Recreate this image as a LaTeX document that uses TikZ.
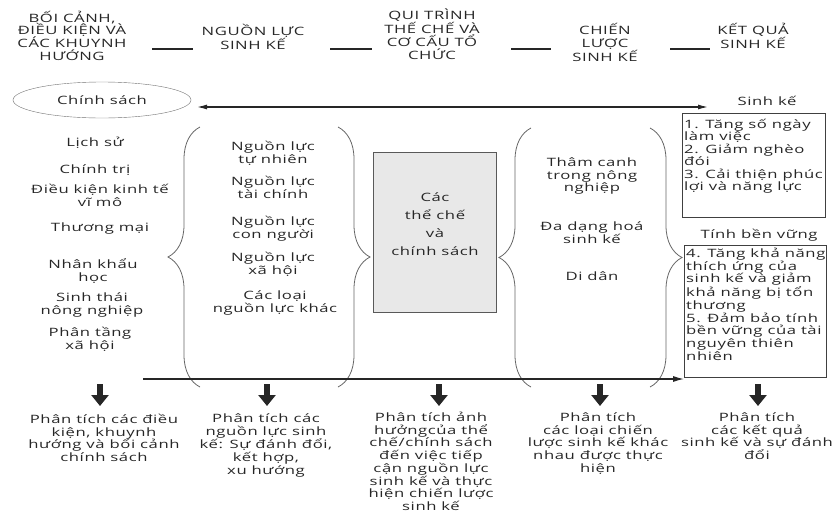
\documentclass[tikz,border=0pt]{standalone}
\usepackage{fontspec}
\setmainfont{Open Sans}[FakeStretch=1.45,LetterSpace=5]
\usetikzlibrary{arrows.meta,decorations.pathreplacing,shapes.geometric}

\begin{document}
\begin{tikzpicture}[x=1pt,y=-1pt,
    lbl/.style={align=center,inner sep=0pt,anchor=base,text=black!85,
      font=\fontsize{11.5}{12.7}\selectfont},
    hdr/.style={lbl,font=\fontsize{11.5}{12.8}\selectfont},
    outtxt/.style={align=left,inner sep=0pt,anchor=base west,text=black!85,
      font=\fontsize{11.5}{12.7}\selectfont},
    frame/.style={draw=black!75,line width=0.7pt,inner sep=0pt,anchor=north west},
    brc/.style={draw=black!60,line width=0.8pt,decorate,
      decoration={brace,amplitude=32pt}},
    dnarr/.style={line width=6pt,draw=black!85,
      -{Triangle[width=17pt,length=11pt]}},
    seg/.style={line width=2.5pt,draw=black!85}]
  \useasboundingbox (0,0) rectangle (838,512);

  % column headings (base = last line)
  \node[hdr] (ctx) at (72,60.4) {BỐI CẢNH,\\ĐIỀU KIỆN VÀ\\CÁC KHUYNH\\HƯỚNG};
  \node[hdr] (assets) at (253,49.8) {NGUỒN LỰC\\SINH KẾ};
  \node[hdr] (inst) at (432,59.4) {QUI TRÌNH\\THẾ CHẾ VÀ\\CƠ CẤU TỔ\\CHỨC};
  \node[hdr] (strat) at (605,61.6) {CHIẾN\\LƯỢC\\SINH KẾ};
  \node[hdr] (outc) at (753,48.8) {KẾT QUẢ\\SINH KẾ};
  \draw[seg] (152,49) -- (193,49);
  \draw[seg] (330,49) -- (372,49);
  \draw[seg] (511,49) -- (551,49);
  \draw[seg] (670,49) -- (710,49);

  % policy <-> livelihood
  \node[draw=black!55,ellipse,minimum width=178pt,minimum height=36pt,
    inner sep=0pt,text=black!85,font=\fontsize{11.5}{12.7}\selectfont]
    (policy) at (102,100) {Chính sách};
  \node[lbl] (livelihood) at (767,105.5) {Sinh kế};
  \coordinate (pl) at (197,107);
  \coordinate (pr) at (708,107);
  \draw[line width=1.2pt,black!85,
    {Latex[length=10pt,width=5pt]}-{Latex[length=10pt,width=5pt]}] (pl) -- (pr);

  % context
  \node[lbl] (hist) at (95,146.5) {Lịch sử};
  \node[lbl] (polit) at (95,173.5) {Chính trị};
  \node[lbl] (macro) at (100,206.2) {Điều kiện kinh tế\\vĩ mô};
  \node[lbl] (trade) at (100,231.5) {Thương mại};
  \node[lbl] (demo) at (93,281.2) {Nhân khẩu\\học};
  \node[lbl] (agro) at (92,314.2) {Sinh thái\\nông nghiệp};
  \node[lbl] (strata) at (90,349.2) {Phân tầng\\xã hội};

  % assets
  \node[lbl] (nat) at (273,163.2) {Nguồn lực\\tự nhiên};
  \node[lbl] (fin) at (273,198.2) {Nguồn lực\\tài chính};
  \node[lbl] (hum) at (273,238.2) {Nguồn lực\\con người};
  \node[lbl] (soc) at (273,274.2) {Nguồn lực\\xã hội};
  \node[lbl] (oth) at (275,312.2) {Các loại\\nguồn lực khác};
  \draw[brc] (200,387) -- (200,127);
  \draw[brc] (338,127) -- (338,387);

  % institutions
  \node[draw=black!65,line width=0.8pt,fill=gray!18,minimum width=123pt,
    minimum height=160pt] (instbox) at (434.5,232) {};
  \node[lbl,font=\fontsize{11.5}{18}\selectfont] (insttxt) at (435,255.5)
    {Các\\thể chế\\và\\chính sách};

  % strategies
  \node[lbl] (inten) at (592,191.9) {Thâm canh\\trong nông\\nghiệp};
  \node[lbl] (divers) at (592,243.2) {Đa dạng hoá\\sinh kế};
  \node[lbl] (migr) at (592,280.5) {Di dân};
  \draw[brc] (531,387) -- (531,128);
  \draw[brc] (650,128) -- (650,387);

  % outcomes
  \node[frame,minimum width=143pt,minimum height=104pt] (gainbox) at (682,113) {};
  \node[outtxt,font=\fontsize{11.5}{12.4}\selectfont] (gains) at (684,190.5)
    {1. Tăng số ngày\\làm việc\\2. Giảm nghèo\\đói\\3. Cải thiện phúc\\lợi và năng lực};
  \node[lbl] (sust) at (759,238.5) {Tính bền vững};
  \node[frame,minimum width=142pt,minimum height=132pt] (resbox) at (684,245) {};
  \node[outtxt] (resil) at (686,360.1)
    {4. Tăng khả năng\\thích ứng của\\sinh kế và giảm\\khả năng bị tổn\\thương\\5. Đảm bảo tính\\bền vững của tài\\nguyên thiên\\nhiên};
  \coordinate (flowstart) at (143,379);
  \draw[line width=1.2pt,black!85,-{Latex[length=11pt,width=6pt]}]
    (flowstart) -- (resbox.west |- flowstart);

  % analysis steps
  \draw[dnarr] (100,384) -- (100,406);
  \draw[dnarr] (267,384) -- (267,406);
  \draw[dnarr] (439,384) -- (439,406);
  \draw[dnarr] (600,384) -- (600,406);
  \draw[dnarr] (758,384) -- (758,406);
  \node[lbl] (an1) at (104,461.6)
    {Phân tích các điều\\kiện, khuynh\\hướng và bối cảnh\\chính sách};
  \node[lbl] (an2) at (266,474.3)
    {Phân tích các\\nguồn lực sinh\\kế: Sự đánh đổi,\\kết hợp,\\xu hướng};
  \node[lbl] (an3) at (431,510.4)
    {Phân tích ảnh\\hưởngcủa thể\\chế/chính sách\\đến việc tiếp\\cận nguồn lực\\sinh kế và thực\\hiện chiến lược\\sinh kế};
  \node[lbl] (an4) at (598,472.3)
    {Phân tích\\các loại chiến\\lược sinh kế khác\\nhau được thực\\hiện};
  \node[lbl] (an5) at (757,459.6)
    {Phân tích\\các kết quả\\sinh kế và sự đánh\\đổi};
\end{tikzpicture}
\end{document}
